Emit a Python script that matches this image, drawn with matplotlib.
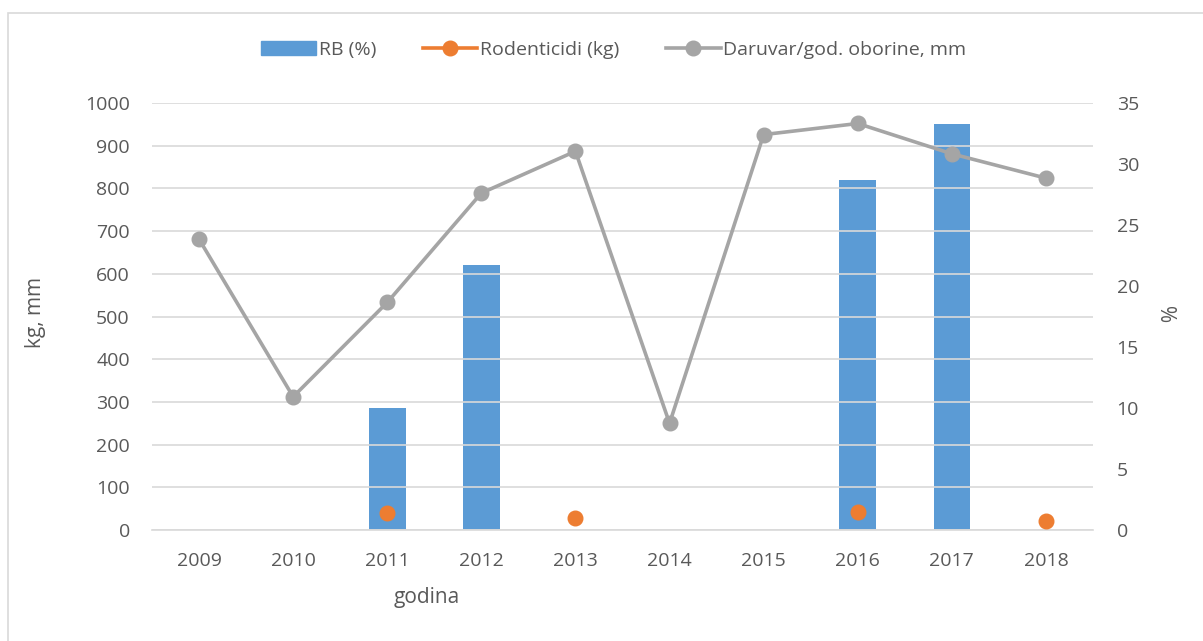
import matplotlib.pyplot as plt
import matplotlib
from matplotlib.lines import Line2D
from matplotlib.patches import Patch, Rectangle
import numpy as np

matplotlib.rcParams['font.family'] = ['Open Sans', 'DejaVu Sans']

godine = ['2009', '2010', '2011', '2012', '2013', '2014', '2015', '2016', '2017', '2018']
rb_pct = [np.nan, np.nan, 10.0, 21.7, np.nan, np.nan, np.nan, 28.7, 33.3, np.nan]
rodenticidi = [np.nan, np.nan, 39, np.nan, 28, np.nan, np.nan, 42, np.nan, 20]
oborine = [681, 312, 533, 789, 887, 250, 926, 952, 881, 824]

blue = '#5B9BD5'
orange = '#ED7D31'
grey = '#A5A5A5'
txt = '#595959'
fs = 14

fig = plt.figure(figsize=(12.03, 6.41), dpi=100)
fig.patches.append(Rectangle((8 / 1203, -0.1), 1.2, 1.1 - 12.5 / 641,
                             transform=fig.transFigure, fill=False,
                             edgecolor='#D9D9D9', linewidth=1.2))

ax = fig.add_axes([152 / 1203, 1 - 530 / 641, 941 / 1203, 427 / 641])
ax2 = ax.twinx()
x = np.arange(len(godine))

# stupci na desnoj osi (%)
ax2.bar(x, rb_pct, width=0.39, color=blue, zorder=1)
ax2.set_ylim(0, 35)
ax2.set_yticks(range(0, 36, 5))

ax.set_zorder(ax2.get_zorder() + 1)
ax.patch.set_visible(False)

ax.plot(x, oborine, '-o', color=grey, lw=2.6, ms=10.5, zorder=3)
ax.plot(x, rodenticidi, 'o', color=orange, ms=10.5, zorder=4)

ax.set_ylim(0, 1000)
ax.set_yticks(range(0, 1001, 100))
ax.set_xlim(-0.5, 9.5)
ax.set_xticks(x)
ax.set_xticklabels(godine)
ax.grid(axis='y', color='#D9D9D9', lw=1.2)
ax.set_axisbelow(True)

for a in (ax, ax2):
    for s in a.spines.values():
        s.set_visible(False)
    a.tick_params(length=0, labelsize=fs, labelcolor=txt)
ax.spines['bottom'].set_visible(True)
ax.spines['bottom'].set_color('#D9D9D9')
ax.spines['bottom'].set_linewidth(1.2)
ax.tick_params(axis='y', pad=16)
ax.tick_params(axis='x', pad=16)
ax2.tick_params(axis='y', pad=17)

fig.text(35 / 1203, 1 - 312 / 641, 'kg, mm', fontsize=fs + 1, color=txt,
         rotation=90, ha='center', va='center')
fig.text(1165 / 1203, 1 - 315 / 641, '%', fontsize=fs + 1, color=txt,
         rotation=270, ha='center', va='center')
fig.text(427 / 1203, 1 - 598 / 641, 'godina', fontsize=fs + 1, color=txt,
         ha='center', va='center')

handles = [Patch(color=blue),
           Line2D([], [], color=orange, lw=2.6, marker='o', ms=10.5),
           Line2D([], [], color=grey, lw=2.6, marker='o', ms=10.5)]
labels = ['RB (%)', 'Rodenticidi (kg)', 'Daruvar/god. oborine, mm']
leg = fig.legend(handles, labels, loc='center', bbox_to_anchor=(614 / 1203, 1 - 50 / 641),
                 ncol=3, frameon=False, fontsize=fs, handlelength=2.8,
                 handletextpad=0.15, columnspacing=2.4)
for t in leg.get_texts():
    t.set_color(txt)

fig.savefig('out.png', dpi=100)
